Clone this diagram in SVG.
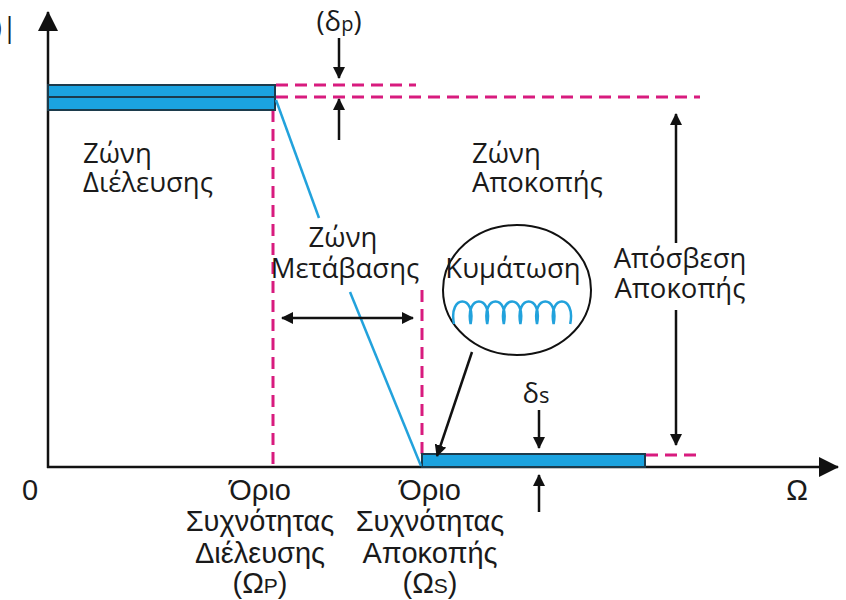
<svg xmlns="http://www.w3.org/2000/svg" width="846" height="600" viewBox="0 0 846 600">
<style>
.ax{stroke:#111;stroke-width:2.5;fill:none}
.ar{stroke:#111;stroke-width:2.5;fill:none}
.pk{stroke:#d81b7e;stroke-width:3;fill:none;stroke-dasharray:12 7}
.bl{stroke:#22a2dc;stroke-width:2.5;fill:none}
.bar{fill:#1ba3e0;stroke:#1c3b4c;stroke-width:2}
.t{font-family:"Open Sans","Noto Sans",sans-serif;font-size:27.5px;fill:#1a1a1a}
.b{font-family:"Liberation Sans",Arial,sans-serif;font-size:29px;fill:#1a1a1a;text-anchor:middle}
</style>
<defs>
<marker id="ah" viewBox="0 0 12 12" refX="11" refY="6" markerWidth="12" markerHeight="12" markerUnits="userSpaceOnUse" orient="auto-start-reverse">
<path d="M0,0 L12,6 L0,12 Z" fill="#111"/>
</marker>
<marker id="axh" viewBox="0 0 20 20" refX="19" refY="10" markerWidth="20" markerHeight="20" markerUnits="userSpaceOnUse" orient="auto">
<path d="M0,0 L20,10 L0,20 Z" fill="#111"/>
</marker>
</defs>

<g id="axes">
<line class="ax" x1="48" y1="468" x2="48" y2="12" marker-end="url(#axh)"/>
<line class="ax" x1="47" y1="467" x2="838" y2="467" marker-end="url(#axh)"/>
<text class="t" x="17" y="37" text-anchor="end" font-size="30">)|</text>
<text class="b" x="30" y="500">0</text>
<text class="b" x="797" y="500">Ω</text>
</g>

<g id="guides">
<line class="pk" x1="276" y1="85" x2="416" y2="85"/>
<line class="pk" x1="276" y1="97" x2="700" y2="97"/>
<line class="pk" x1="273" y1="110" x2="273" y2="467"/>
<line class="pk" x1="422" y1="290" x2="422" y2="455"/>
<line class="pk" x1="646" y1="455" x2="700" y2="455"/>
</g>

<g id="passband">
<rect class="bar" x="48" y="85" width="227" height="12"/>
<rect class="bar" x="48" y="97" width="227" height="13"/>
</g>

<g id="stopband">
<rect class="bar" x="422" y="454" width="223" height="13"/>
</g>

<g id="transition">
<line class="bl" x1="276" y1="100" x2="319" y2="218"/>
<line class="bl" x1="350" y1="292" x2="421" y2="466"/>
</g>

<g id="connectors">
<line class="ar" x1="339" y1="38" x2="339" y2="78" marker-end="url(#ah)"/>
<line class="ar" x1="339" y1="140" x2="339" y2="99" marker-end="url(#ah)"/>
<line class="ar" x1="539" y1="410" x2="539" y2="448" marker-end="url(#ah)"/>
<line class="ar" x1="539" y1="512" x2="539" y2="475" marker-end="url(#ah)"/>
<line class="ar" x1="676" y1="243" x2="676" y2="114" marker-end="url(#ah)"/>
<line class="ar" x1="676" y1="310" x2="676" y2="445" marker-end="url(#ah)"/>
<line class="ar" x1="282" y1="318" x2="413" y2="318" marker-start="url(#ah)" marker-end="url(#ah)"/>
<line class="ar" x1="472" y1="352" x2="437" y2="456" marker-end="url(#ah)"/>
</g>

<g id="labels">
<text class="t" x="339" y="31" text-anchor="middle" font-size="25">(δ<tspan font-size="20">p</tspan>)</text>
<text class="t" x="83" y="163">Ζώνη<tspan x="83" dy="29">Διέλευσης</tspan></text>
<text class="t" x="472" y="163">Ζώνη<tspan x="472" dy="29">Αποκοπής</tspan></text>
<text class="t" x="343" y="247" text-anchor="middle" font-size="27">Ζώνη<tspan x="345" dy="31">Μετάβασης</tspan></text>
<text class="t" x="680" y="268" text-anchor="middle">Απόσβεση<tspan x="680" dy="30">Αποκοπής</tspan></text>
<text class="t" x="536" y="403" text-anchor="middle" font-size="26">δ<tspan font-size="22">s</tspan></text>
</g>

<g id="ripple">
<ellipse cx="517" cy="290" rx="74" ry="65" fill="none" stroke="#111" stroke-width="2"/>
<text class="t" x="513" y="278" text-anchor="middle" font-size="22">Κυμάτωση</text>
<path class="bl" stroke-width="2" d="M454,324 c-6,-30 22.6,-30 16.6,0 c-6,-30 22.6,-30 16.6,0 c-6,-30 22.6,-30 16.6,0 c-6,-30 22.6,-30 16.6,0 c-6,-30 22.6,-30 16.6,0 c-6,-30 22.6,-30 16.6,0 c-6,-30 22.6,-30 16.6,0"/>
</g>

<g id="freq-labels">
<text class="b" x="260" y="500">Όριο<tspan x="260" dy="31">Συχνότητας</tspan><tspan x="260" dy="32">Διέλευσης</tspan><tspan x="260" dy="30">(Ω<tspan font-size="21">P</tspan>)</tspan></text>
<text class="b" x="430" y="500">Όριο<tspan x="430" dy="31">Συχνότητας</tspan><tspan x="430" dy="32">Αποκοπής</tspan><tspan x="430" dy="30">(Ω<tspan font-size="21">S</tspan>)</tspan></text>
</g>
</svg>
